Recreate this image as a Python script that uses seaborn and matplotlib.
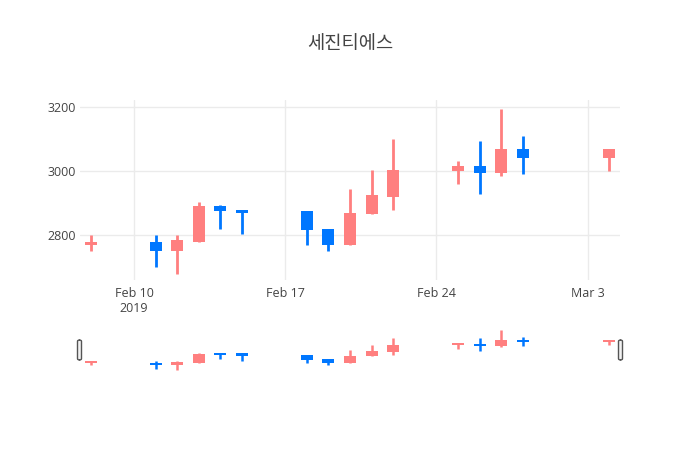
import pandas as pd
import matplotlib
matplotlib.use("Agg")
import matplotlib.pyplot as plt
import matplotlib.dates as mdates
from matplotlib.patches import FancyBboxPatch
import seaborn as sns

# 데이터
dates = ["2019-02-08", "2019-02-11", "2019-02-12", "2019-02-13", "2019-02-14",
         "2019-02-15", "2019-02-18", "2019-02-19", "2019-02-20", "2019-02-21",
         "2019-02-22", "2019-02-25", "2019-02-26", "2019-02-27", "2019-02-28",
         "2019-03-04"]
open_ = [2770, 2780, 2750, 2780, 2890, 2880, 2875, 2820, 2770, 2865,
         2920, 3000, 3015, 2995, 3070, 3040]
high = [2800, 2800, 2800, 2905, 2895, 2880, 2875, 2820, 2945, 3005,
        3100, 3030, 3095, 3195, 3110, 3070]
low = [2750, 2700, 2680, 2780, 2820, 2805, 2770, 2750, 2770, 2865,
       2880, 2960, 2930, 2985, 2990, 3000]
close = [2780, 2750, 2785, 2890, 2875, 2870, 2815, 2770, 2870, 2925,
         3005, 3015, 2995, 3070, 3040, 3070]

tick_dates = ["2019-02-10", "2019-02-17", "2019-02-24", "2019-03-03"]
tick_labels = ["Feb 10\n2019", "Feb 17", "Feb 24", "Mar 3"]
title = "세진티에스"

UP = "#ff7f7f"
DOWN = "#0077ff"

df = pd.DataFrame({"date": pd.to_datetime(dates), "open": open_, "high": high,
                   "low": low, "close": close})
df["x"] = mdates.date2num(df["date"])
df["dir"] = ["up" if c >= o else "down" for o, c in zip(df["open"], df["close"])]

# 심지용 long 포맷
wicks = pd.concat([
    df[["x", "dir"]].assign(price=df["low"]),
    df[["x", "dir"]].assign(price=df["high"]),
])

sns.set_theme(style="white")
plt.rcParams["font.family"] = ["Open Sans", "Noto Sans CJK KR", "DejaVu Sans"]

fig = plt.figure(figsize=(7, 4.5), dpi=100)
W, H = 700, 450
ax = fig.add_axes([80 / W, 170 / H, 540 / W, 180 / H])
ax_s = fig.add_axes([80 / W, 78 / H, 540 / W, 44 / H])

x0 = mdates.date2num(pd.Timestamp("2019-02-07 12:00"))
x1 = mdates.date2num(pd.Timestamp("2019-03-04 12:00"))
ylo, yhi = 2660, 3222


def candles(a, lw, min_h):
    sns.lineplot(data=wicks, x="x", y="price", hue="dir", units="x",
                 estimator=None, palette={"up": UP, "down": DOWN},
                 linewidth=lw, legend=False, ax=a, zorder=2,
                 solid_capstyle="butt")
    for _, r in df.iterrows():
        col = UP if r["dir"] == "up" else DOWN
        lo, hi = min(r["open"], r["close"]), max(r["open"], r["close"])
        a.bar(r["x"], max(hi - lo, min_h), bottom=lo, width=0.56, color=col,
              linewidth=0, zorder=3)
    a.set_xlim(x0, x1)
    a.set_ylim(ylo, yhi)
    a.set_xlabel("")
    a.set_ylabel("")
    for s in a.spines.values():
        s.set_visible(False)


candles(ax, 2, 4)
ax.set_yticks([2800, 3000, 3200])
ax.set_xticks(mdates.date2num(pd.to_datetime(tick_dates)))
ax.set_xticklabels(tick_labels)
ax.grid(True, color="#ebebeb", linewidth=1)
ax.set_axisbelow(True)
ax.tick_params(axis="both", length=0, labelsize=9, colors="#444444")
ax.tick_params(axis="y", pad=3)
ax.tick_params(axis="x", pad=5)

candles(ax_s, 1.8, 28)
ax_s.set_xticks([])
ax_s.set_yticks([])

# 레인지 슬라이더 핸들
for hx in (77.5, 618.5):
    fig.patches.append(FancyBboxPatch((hx / W, 1 - 360 / H), 4 / W, 20 / H,
                                      boxstyle="round,pad=0,rounding_size=0.003",
                                      transform=fig.transFigure, facecolor="#f2f2f2",
                                      edgecolor="#555555", linewidth=1))

fig.text(0.5, 1 - 43 / H, title, ha="center", va="center", fontsize=13.5,
         color="#444444", family=["Noto Sans CJK KR", "DejaVu Sans"])

fig.savefig("out.png", dpi=100)
